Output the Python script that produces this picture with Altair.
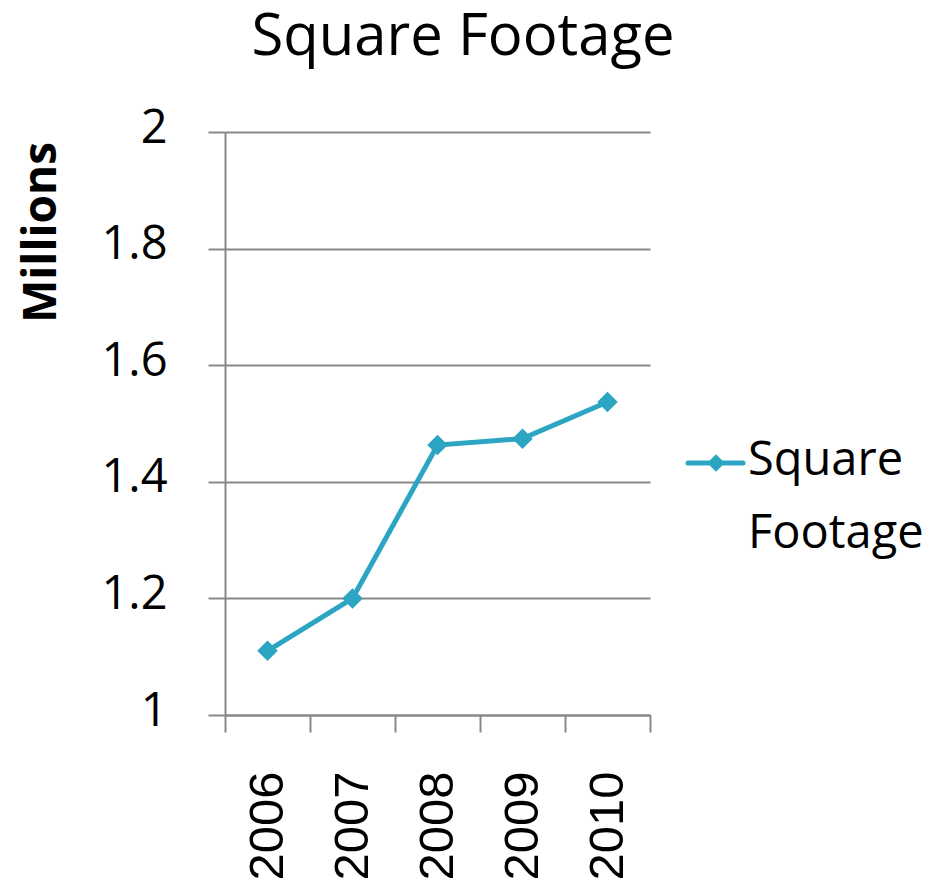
import altair as alt
import pandas as pd

years = ["2006", "2007", "2008", "2009", "2010"]
square_footage = [1.11, 1.20, 1.463, 1.474, 1.537]
series_name = "Square Footage"
chart_title = "Square Footage"
y_ticks = [1.0, 1.2, 1.4, 1.6, 1.8, 2.0]

COLOR = "#2CA5C2"
GRAY = "#888888"

df = pd.DataFrame({"Year": years, "Value": square_footage, "Series": series_name})
legend_df = pd.DataFrame({"Series": [series_name],
                          "Label": [series_name.replace(" ", "\n")]})
title_df = pd.DataFrame({"Title": [chart_title]})

x_enc = alt.X("Year:N", sort=years, bandPosition=0.5,
              scale=alt.Scale(type="band", paddingInner=0, paddingOuter=0),
              axis=alt.Axis(title=None, labelAngle=270, labelFont="Liberation Sans",
                            labelFontSize=49, labelColor="black", labelPadding=39,
                            tickBand="extent", tickSize=17, tickColor=GRAY, tickWidth=2,
                            domainColor=GRAY, domainWidth=2, grid=False))
y_enc = alt.Y("Value:Q",
              scale=alt.Scale(domain=[1, 2], nice=False, zero=False),
              axis=alt.Axis(title="Millions", values=y_ticks, format=".1~f",
                            labelFont="Open Sans", labelFontSize=47, labelColor="black",
                            labelPadding=41, labelBaseline="alphabetic", labelOffset=10,
                            labelAlign="right",
                            tickSize=17, tickColor=GRAY, tickWidth=2,
                            domainColor=GRAY, domainWidth=2,
                            grid=True, gridColor=GRAY, gridWidth=2,
                            titleFont="Open Sans", titleFontSize=46, titleFontWeight="bold",
                            titleColor="black", titleAngle=270, titleX=-170, titleY=100,
                            titleAlign="center", titleBaseline="alphabetic"))

line = alt.Chart(df).mark_line(color=COLOR, strokeWidth=5).encode(x=x_enc, y=y_enc)
pts = alt.Chart(df).mark_point(shape="diamond", filled=True, color=COLOR, size=420, opacity=1).encode(
    x=alt.X("Year:N", sort=years, bandPosition=0.5), y="Value:Q")

leg_rule = alt.Chart(legend_df).mark_rule(color=COLOR, strokeWidth=5, strokeCap="round").encode(
    x=alt.value(463), x2=alt.value(518), y=alt.value(331))
leg_pt = alt.Chart(legend_df).mark_point(shape="diamond", filled=True, color=COLOR, size=300, opacity=1).encode(
    x=alt.value(491), y=alt.value(331))
leg_text = alt.Chart(legend_df).mark_text(align="left", baseline="alphabetic", font="Open Sans",
                                          fontSize=47, color="black", lineBreak="\n",
                                          lineHeight=73).encode(
    x=alt.value(523), y=alt.value(343), text="Label:N")

title_text = alt.Chart(title_df).mark_text(align="center", baseline="alphabetic", font="Open Sans",
                                           fontSize=58, color="black").encode(
    x=alt.value(238), y=alt.value(-77), text="Title:N")

chart = alt.layer(line, pts, leg_rule, leg_pt, leg_text, title_text).properties(
    width=425, height=583,
    autosize=alt.AutoSizeParams(type="none"),
    padding={"left": 217, "top": 124, "right": 290, "bottom": 170},
).configure_view(strokeWidth=0)

chart.save("out.html", embed_options={"renderer": "svg", "actions": False})
